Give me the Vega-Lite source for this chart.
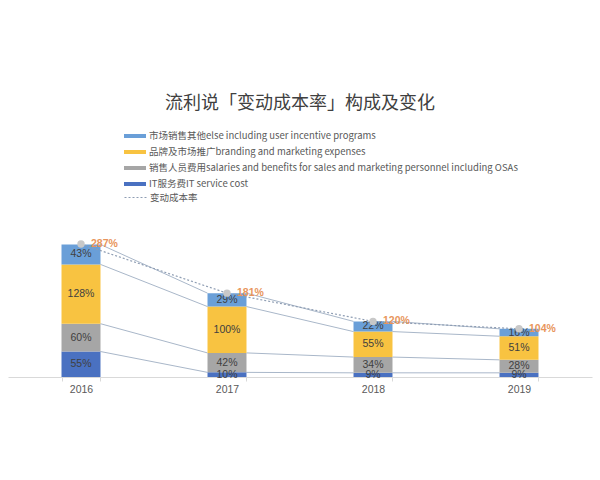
{
  "$schema": "https://vega.github.io/schema/vega-lite/v6.json",
  "width": 584,
  "height": 139,
  "autosize": {"type": "none"},
  "padding": {"left": 8, "right": 8, "top": 238, "bottom": 103},
  "background": "white",
  "title": {"text": "流利说「变动成本率」构成及变化", "fontSize": 18, "font": "Noto Sans CJK SC", "fontWeight": "normal", "color": "#404040", "anchor": "middle", "offset": 12},
  "datasets": {
    "costs": [
      {"year": "2016", "segment": "IT服务费IT service cost", "layer": 1, "value": 55},
      {"year": "2016", "segment": "销售人员费用salaries and benefits for sales and marketing personnel including OSAs", "layer": 2, "value": 60},
      {"year": "2016", "segment": "品牌及市场推广branding and marketing expenses", "layer": 3, "value": 128},
      {"year": "2016", "segment": "市场销售其他else including user incentive programs", "layer": 4, "value": 43},
      {"year": "2017", "segment": "IT服务费IT service cost", "layer": 1, "value": 10},
      {"year": "2017", "segment": "销售人员费用salaries and benefits for sales and marketing personnel including OSAs", "layer": 2, "value": 42},
      {"year": "2017", "segment": "品牌及市场推广branding and marketing expenses", "layer": 3, "value": 100},
      {"year": "2017", "segment": "市场销售其他else including user incentive programs", "layer": 4, "value": 29},
      {"year": "2018", "segment": "IT服务费IT service cost", "layer": 1, "value": 9},
      {"year": "2018", "segment": "销售人员费用salaries and benefits for sales and marketing personnel including OSAs", "layer": 2, "value": 34},
      {"year": "2018", "segment": "品牌及市场推广branding and marketing expenses", "layer": 3, "value": 55},
      {"year": "2018", "segment": "市场销售其他else including user incentive programs", "layer": 4, "value": 22},
      {"year": "2019", "segment": "IT服务费IT service cost", "layer": 1, "value": 9},
      {"year": "2019", "segment": "销售人员费用salaries and benefits for sales and marketing personnel including OSAs", "layer": 2, "value": 28},
      {"year": "2019", "segment": "品牌及市场推广branding and marketing expenses", "layer": 3, "value": 51},
      {"year": "2019", "segment": "市场销售其他else including user incentive programs", "layer": 4, "value": 16}
    ],
    "totals": [
      {"year": "2016", "series": "变动成本率", "total": 287},
      {"year": "2017", "series": "变动成本率", "total": 181},
      {"year": "2018", "series": "变动成本率", "total": 120},
      {"year": "2019", "series": "变动成本率", "total": 104}
    ]
  },
  "layer": [
    {
      "data": {"name": "costs"},
      "transform": [
        {"stack": "value", "groupby": ["year"], "sort": [{"field": "layer", "order": "ascending"}], "as": ["v0", "v1"]},
        {"window": [{"op": "lead", "field": "v1", "as": "nv1"}, {"op": "lead", "field": "year", "as": "nyear"}], "groupby": ["segment"], "sort": [{"field": "year", "order": "ascending"}]},
        {"filter": "datum.nyear != null"}
      ],
      "mark": {"type": "rule", "color": "#A9B7C9", "strokeWidth": 1},
      "encoding": {
        "x": {"field": "year", "type": "nominal", "bandPosition": 1},
        "x2": {"field": "nyear", "bandPosition": 0},
        "y": {"field": "v1", "type": "quantitative"},
        "y2": {"field": "nv1"}
      }
    },
    {
      "data": {"name": "costs"},
      "transform": [
        {"stack": "value", "groupby": ["year"], "sort": [{"field": "layer", "order": "ascending"}], "as": ["v0", "v1"]}
      ],
      "mark": {"type": "bar"},
      "encoding": {
        "x": {"field": "year", "type": "nominal"},
        "y": {"field": "v1", "type": "quantitative"},
        "y2": {"field": "v0"},
        "color": {
          "field": "segment", "type": "nominal",
          "scale": {
            "domain": ["市场销售其他else including user incentive programs", "品牌及市场推广branding and marketing expenses", "销售人员费用salaries and benefits for sales and marketing personnel including OSAs", "IT服务费IT service cost"],
            "range": ["#6A9FD8", "#F8C341", "#A6A6A6", "#4A71C1"]
          },
          "legend": {"orient": "none", "legendX": 116, "legendY": -113, "title": null, "symbolType": "M-1,-0.18H1V0.18H-1Z", "symbolSize": 484, "symbolStrokeWidth": 0, "labelFontSize": 9.5, "labelColor": "#595959", "labelFont": "Noto Sans CJK SC", "labelLimit": 0, "rowPadding": -6.5, "labelOffset": 3}
        }
      }
    },
    {
      "data": {"name": "costs"},
      "transform": [
        {"stack": "value", "groupby": ["year"], "sort": [{"field": "layer", "order": "ascending"}], "as": ["v0", "v1"]},
        {"calculate": "(datum.v0 + datum.v1) / 2", "as": "mid"},
        {"calculate": "datum.value + '%'", "as": "lbl"}
      ],
      "mark": {"type": "text", "fontSize": 10.5, "color": "#404040", "font": "Liberation Sans", "baseline": "middle"},
      "encoding": {
        "x": {"field": "year", "type": "nominal"},
        "y": {"field": "mid", "type": "quantitative"},
        "text": {"field": "lbl"}
      }
    },
    {
      "data": {"name": "totals"},
      "mark": {"type": "line", "strokeDash": [2, 2], "strokeWidth": 1.2},
      "encoding": {
        "x": {"field": "year", "type": "nominal"},
        "y": {"field": "total", "type": "quantitative"},
        "stroke": {
          "field": "series", "type": "nominal",
          "scale": {"domain": ["变动成本率"], "range": ["#8E9DB3"]},
          "legend": {"orient": "none", "legendX": 116, "legendY": -52, "title": null, "symbolType": "stroke", "symbolDash": [2, 2], "symbolSize": 484, "symbolStrokeWidth": 1, "labelFontSize": 9.5, "labelColor": "#595959", "labelFont": "Noto Sans CJK SC", "labelLimit": 0, "labelOffset": 3}
        }
      }
    },
    {
      "data": {"name": "totals"},
      "mark": {"type": "point", "shape": "circle", "filled": true, "color": "#C8C8C8", "size": 55, "opacity": 1},
      "encoding": {
        "x": {"field": "year", "type": "nominal"},
        "y": {"field": "total", "type": "quantitative"}
      }
    },
    {
      "data": {"name": "totals"},
      "transform": [{"calculate": "datum.total + '%'", "as": "lbl"}],
      "mark": {"type": "text", "align": "left", "baseline": "middle", "dx": 10, "fontSize": 10.5, "fontWeight": "bold", "color": "#E8955C", "font": "Liberation Sans"},
      "encoding": {
        "x": {"field": "year", "type": "nominal"},
        "y": {"field": "total", "type": "quantitative"},
        "text": {"field": "lbl"}
      }
    }
  ],
  "encoding": {
    "x": {"field": "year", "type": "nominal", "scale": {"paddingInner": 0.733, "paddingOuter": 0.3665}, "axis": {"title": null, "labelAngle": 0, "labelFontSize": 10.5, "labelColor": "#595959", "labelFont": "Liberation Sans", "domainColor": "#D9D9D9", "tickColor": "#D9D9D9", "tickBand": "extent", "tickSize": 4, "labelPadding": 3}},
    "y": {"type": "quantitative", "scale": {"domain": [0, 300]}, "axis": null}
  },
  "resolve": {"scale": {"x": "shared", "y": "shared"}},
  "config": {"view": {"stroke": null}}
}
